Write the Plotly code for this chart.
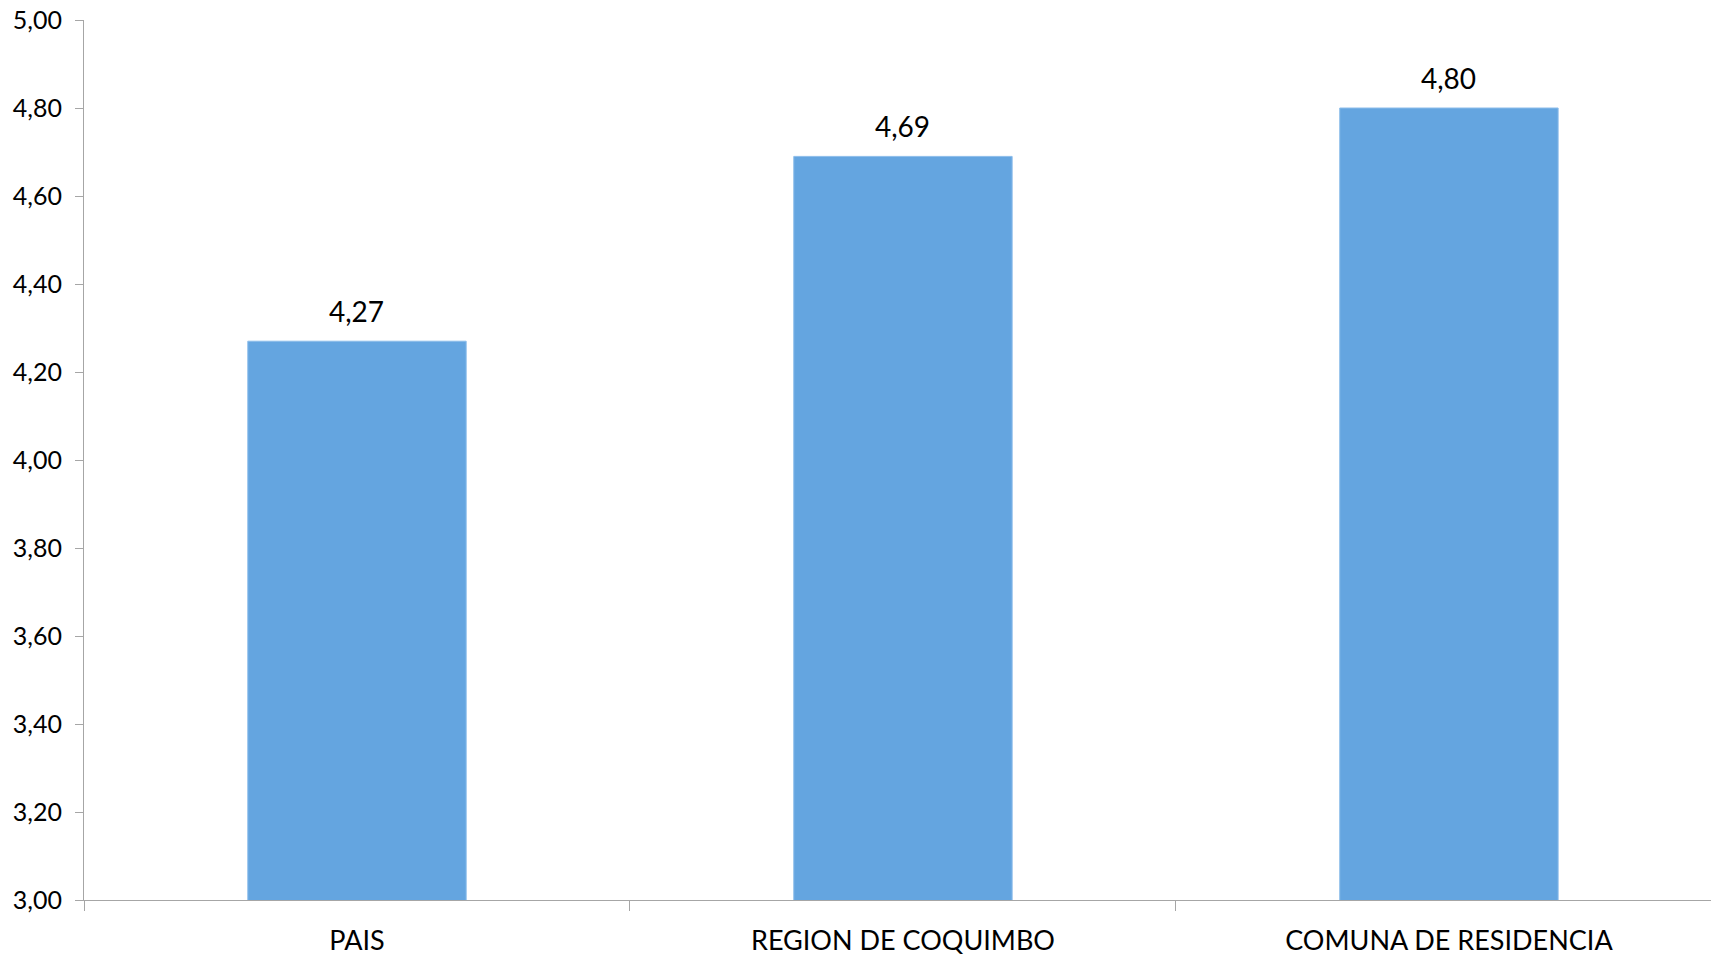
import plotly.graph_objects as go

categorias = ["PAIS", "REGION DE COQUIMBO", "COMUNA DE RESIDENCIA"]
valores = [4.27, 4.69, 4.80]
etiquetas = ["4,27", "4,69", "4,80"]

FONT = "Lato, Open Sans, sans-serif"

fig = go.Figure(
    go.Bar(
        x=categorias,
        y=valores,
        marker=dict(color="#64A5E0", line=dict(color="#8CBDEA", width=1)),
        cliponaxis=False,
    )
)

# etiquetas de datos sobre cada barra
for cat, val, txt in zip(categorias, valores, etiquetas):
    fig.add_annotation(
        x=cat, y=val, text=txt, showarrow=False,
        yanchor="bottom", yshift=11,
        font=dict(size=28, color="#000000", family=FONT),
    )

fig.update_layout(
    width=1711,
    height=955,
    template="plotly_white",
    margin=dict(l=84, r=0, t=20, b=55),
    bargap=0.6,
    showlegend=False,
    separators=",.",
    font=dict(family=FONT, size=25, color="#000000"),
    plot_bgcolor="white",
    paper_bgcolor="white",
)

fig.update_yaxes(
    range=[3, 5],
    dtick=0.2,
    tickformat=".2f",
    showgrid=False,
    zeroline=False,
    showline=True,
    linecolor="#A6A6A6",
    linewidth=1,
    ticks="outside",
    ticklen=8,
    tickcolor="#A6A6A6",
    ticklabelstandoff=8,
    automargin=False,
    tickfont=dict(size=25, family=FONT),
)

fig.update_xaxes(
    range=[-0.5, 2.48],
    showgrid=False,
    showline=True,
    linecolor="#A6A6A6",
    linewidth=1,
    ticks="outside",
    tickson="boundaries",
    ticklen=10,
    tickcolor="#A6A6A6",
    ticklabelstandoff=17,
    automargin=False,
    tickfont=dict(size=27, family=FONT),
)

# quitar el margen del body para que la figura ocupe toda la ventana
fig.write_html(
    "out.html",
    config={"displayModeBar": False},
    post_script="document.body.style.margin='0';document.body.style.overflow='hidden';",
)
